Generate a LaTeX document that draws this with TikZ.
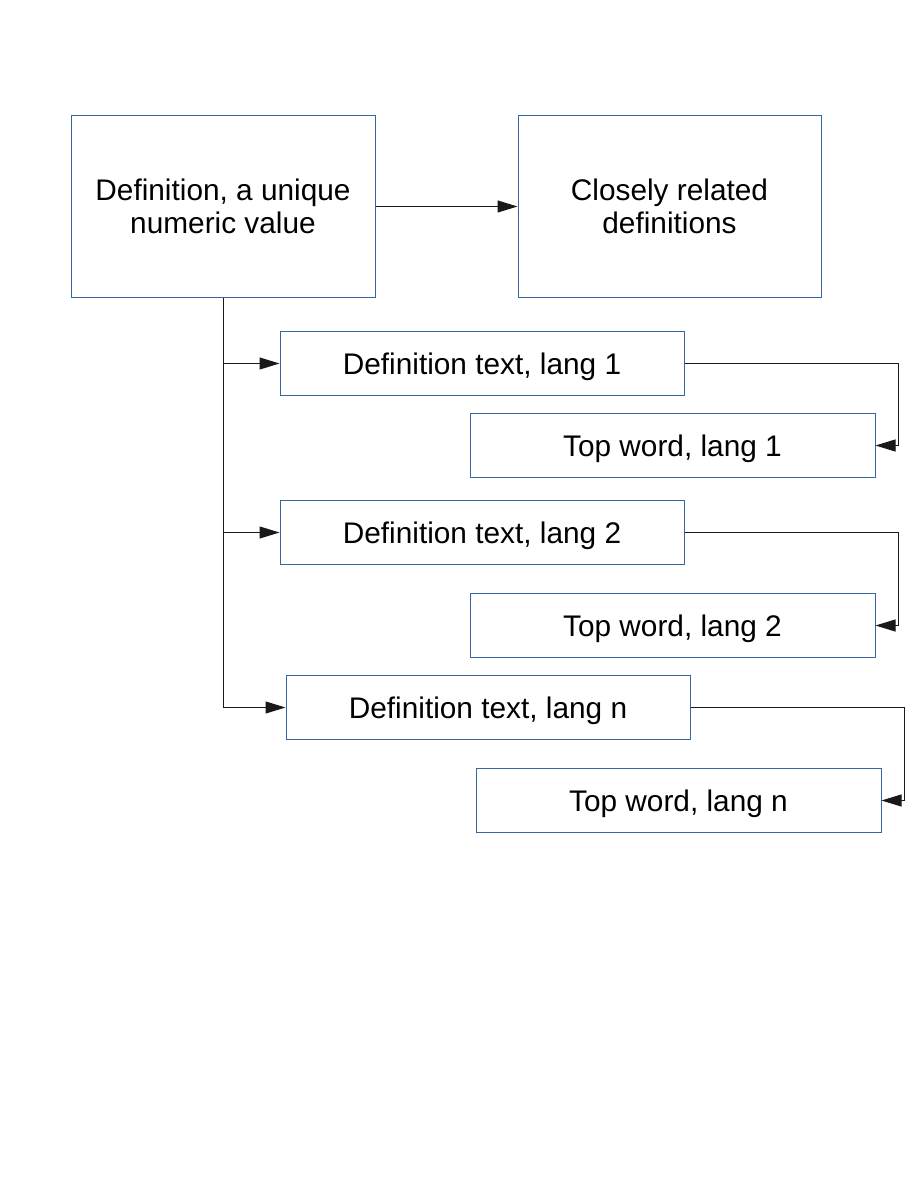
\documentclass[tikz,border=0pt]{standalone}
\usepackage{fontspec}
\setmainfont{Liberation Sans}
\usetikzlibrary{arrows.meta}
\definecolor{boxblue}{HTML}{3465A4}
\tikzset{
  box/.style={draw=boxblue, line width=1pt, rectangle, inner sep=0pt, align=center,
    font=\fontsize{29.8}{33}\selectfont},
  onebox/.style={box, minimum height=64pt, text depth=0pt},
  conn/.style={draw=black!90, line width=1pt, -{Triangle[length=20pt,width=12pt]}},
}
\begin{document}
\begin{tikzpicture}[x=1pt,y=-1pt]
\useasboundingbox (0,0) rectangle (918,1188);
\fill[white] (0,0) rectangle (918,1188);
\node[box, minimum width=304pt, minimum height=181pt] (A) at (223,206.5) {Definition, a unique\\numeric value};
\node[box, minimum width=303pt, minimum height=181pt] (B) at (669.5,206.5) {Closely related\\definitions};
\node[onebox, minimum width=404pt] (D1) at (482,363.5) {Definition text, lang 1};
\node[onebox, minimum width=405pt] (T1) at (672.5,445.5) {Top word, lang 1};
\node[onebox, minimum width=404pt] (D2) at (482,532.5) {Definition text, lang 2};
\node[onebox, minimum width=405pt] (T2) at (672.5,625.5) {Top word, lang 2};
\node[onebox, minimum width=404pt] (Dn) at (488,707.5) {Definition text, lang n};
\node[onebox, minimum width=405pt] (Tn) at (678.5,800.5) {Top word, lang n};
\coordinate (J1) at (223,363.5);
\coordinate (J2) at (223,532.5);
\coordinate (Jn) at (223,707.5);
\draw[conn] (A.east) -- (B.west);
\draw[line width=1pt, black!90] (A.south) -- (Jn);
\draw[conn] (J1) -- (D1.west);
\draw[conn] (J2) -- (D2.west);
\draw[conn] (Jn) -- (Dn.west);
\draw[conn] (D1.east) -- (898,363.5) |- (T1.east);
\draw[conn] (D2.east) -- (898,532.5) |- (T2.east);
\draw[conn] (Dn.east) -- (904,707.5) |- (Tn.east);
\end{tikzpicture}
\end{document}
